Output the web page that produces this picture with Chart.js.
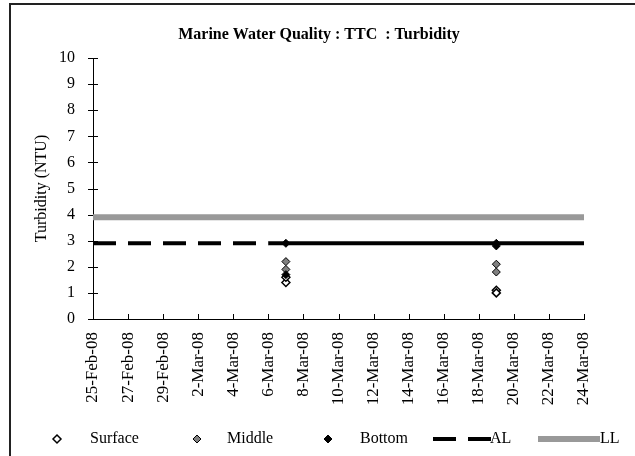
<!DOCTYPE html>
<html>
<head>
<meta charset="utf-8">
<script src="https://cdn.jsdelivr.net/npm/chart.js@4.4.1/dist/chart.umd.min.js"></script>
<style>
  html, body { margin: 0; padding: 0; background: #fff; }
  #wrap { position: relative; width: 635px; height: 456px; }
</style>
</head>
<body>
<div id="wrap"><canvas id="turbChart" width="635" height="456"></canvas></div>
<script>
// Dados
const sampleDates = ["2008-03-07", "2008-03-07", "2008-03-19", "2008-03-19"];
const surface = [1.4, 1.6, 1.1, 1.0];
const middle = [2.2, 1.9, 2.1, 1.8];
const bottom = [2.9, 1.7, 2.9, 2.8];

const alDates = ["2008-02-25", "2008-03-06", "2008-03-24"];
const alValues = [2.9, 2.9, 2.9];
const llDates = ["2008-02-25", "2008-03-24"];
const llValues = [3.9, 3.9];

const xTickLabels = [
  "25-Feb-08", "27-Feb-08", "29-Feb-08", "2-Mar-08", "4-Mar-08",
  "6-Mar-08", "8-Mar-08", "10-Mar-08", "12-Mar-08", "14-Mar-08",
  "16-Mar-08", "18-Mar-08", "20-Mar-08", "22-Mar-08", "24-Mar-08",
];
const yTicks = [0, 1, 2, 3, 4, 5, 6, 7, 8, 9, 10];

const FONT = "'Liberation Serif', 'Times New Roman', serif";

// dia (UTC) a partir de "aaaa-mm-dd"
function toDay(s) {
  const p = s.split("-");
  return Date.UTC(+p[0], +p[1] - 1, +p[2]) / 86400000;
}
function pts(dates, values) {
  return dates.map((d, i) => ({ x: toDay(d), y: values[i] }));
}

const xStart = toDay("2008-02-25");
const xEnd = toDay("2008-03-24");

// Moldura, marcas de escala e legenda
const extras = {
  id: "extras",
  beforeDraw(chart) {
    const c = chart.ctx;
    c.save();
    c.fillStyle = "#fff";
    c.fillRect(0, 0, chart.width, chart.height);
    c.fillStyle = "#222";
    c.fillRect(9, 3, chart.width - 9, 2);
    c.fillRect(9, 3, 2, chart.height - 3);
    c.restore();
  },
  beforeDatasetsDraw(chart) {
    const c = chart.ctx;
    const xs = chart.scales.x, ys = chart.scales.y;
    const area = chart.chartArea;
    c.save();
    c.strokeStyle = "#000";
    c.lineWidth = 1;
    c.beginPath();
    xs.ticks.forEach((t) => {
      const px = Math.round(xs.getPixelForValue(t.value)) + 0.5;
      c.moveTo(px, area.bottom);
      c.lineTo(px, area.bottom - 5);
    });
    ys.ticks.forEach((t) => {
      const py = Math.round(ys.getPixelForValue(t.value)) + 0.5;
      c.moveTo(area.left - 5, py);
      c.lineTo(area.left + 5, py);
    });
    c.stroke();
    c.restore();
  },
  afterDraw(chart) {
    const c = chart.ctx;
    const y = 439;
    c.save();
    c.font = "16px " + FONT;
    c.fillStyle = "#000";
    c.textBaseline = "middle";

    const diamond = (x, fill, bw) => {
      c.beginPath();
      c.moveTo(x, y - 4);
      c.lineTo(x + 4, y);
      c.lineTo(x, y + 4);
      c.lineTo(x - 4, y);
      c.closePath();
      c.fillStyle = fill;
      c.fill();
      c.lineWidth = bw;
      c.strokeStyle = "#000";
      c.stroke();
    };
    diamond(57, "#fff", 1.5);
    diamond(197, "#808080", 1);
    diamond(328, "#000", 1);

    c.fillStyle = "#000";
    c.fillText("Surface", 90, y);
    c.fillText("Middle", 227, y);
    c.fillText("Bottom", 360, y);

    c.strokeStyle = "#000";
    c.lineWidth = 4;
    c.setLineDash([23, 12]);
    c.beginPath();
    c.moveTo(433, y);
    c.lineTo(491, y);
    c.stroke();
    c.setLineDash([]);
    c.fillText("AL", 490, y);

    c.strokeStyle = "#999";
    c.lineWidth = 6;
    c.beginPath();
    c.moveTo(538, y);
    c.lineTo(600, y);
    c.stroke();
    c.fillStyle = "#000";
    c.fillText("LL", 600, y);
    c.restore();
  },
};

const ctx = document.getElementById("turbChart").getContext("2d");
const turbChart = new Chart(ctx, {
  type: "scatter",
  data: {
    datasets: [
      {
        label: "Surface",
        data: pts(sampleDates, surface),
        pointStyle: "rectRot",
        pointRadius: 4,
        backgroundColor: "#fff",
        borderColor: "#000",
        borderWidth: 1.5,
        order: 3,
      },
      {
        label: "Middle",
        data: pts(sampleDates, middle),
        pointStyle: "rectRot",
        pointRadius: 4,
        backgroundColor: "#808080",
        borderColor: "#000",
        borderWidth: 1,
        order: 2,
      },
      {
        label: "Bottom",
        data: pts(sampleDates, bottom),
        pointStyle: "rectRot",
        pointRadius: 4,
        backgroundColor: "#000",
        borderColor: "#000",
        borderWidth: 1,
        order: 1,
      },
      {
        label: "AL",
        data: pts(alDates, alValues),
        showLine: true,
        pointRadius: 0,
        borderColor: "#000",
        borderWidth: 4,
        segment: {
          borderDash: (s) => (s.p0DataIndex === 0 ? [23, 12] : undefined),
        },
        order: 4,
      },
      {
        label: "LL",
        data: pts(llDates, llValues),
        showLine: true,
        pointRadius: 0,
        borderColor: "#999",
        borderWidth: 6,
        order: 5,
      },
    ],
  },
  options: {
    responsive: false,
    animation: false,
    events: [],
    layout: {
      padding: { left: 54, right: 51, top: 0, bottom: 47 },
    },
    plugins: {
      legend: { display: false },
      tooltip: { enabled: false },
      title: {
        display: true,
        text: "Marine Water Quality : TTC  : Turbidity",
        color: "#000",
        font: { family: FONT, size: 16, weight: "bold", lineHeight: 1.2 },
        padding: { top: 25.4, bottom: 13.4 },
      },
    },
    scales: {
      x: {
        type: "linear",
        min: xStart,
        max: xEnd,
        afterFit: (s) => {
          s.height = 90;
        },
        grid: { display: false, drawTicks: false, tickLength: 0 },
        border: { display: true, color: "#000", width: 1 },
        ticks: {
          stepSize: 2,
          autoSkip: false,
          minRotation: 90,
          maxRotation: 90,
          padding: 13,
          color: "#000",
          font: { family: FONT, size: 17 },
          callback: (v) => xTickLabels[Math.round((v - xStart) / 2)],
        },
      },
      y: {
        min: yTicks[0],
        max: yTicks[yTicks.length - 1],
        afterFit: (s) => {
          s.width = 39;
        },
        grid: { display: false, drawTicks: false, tickLength: 0 },
        border: { display: true, color: "#000", width: 1 },
        ticks: {
          stepSize: 1,
          padding: 18,
          color: "#000",
          font: { family: FONT, size: 16 },
        },
        title: {
          display: true,
          text: "Turbidity (NTU)",
          color: "#000",
          font: { family: FONT, size: 16, lineHeight: 1.2 },
          padding: { top: -21.6, bottom: 0 },
        },
      },
    },
  },
  plugins: [extras],
});
</script>
</body>
</html>
